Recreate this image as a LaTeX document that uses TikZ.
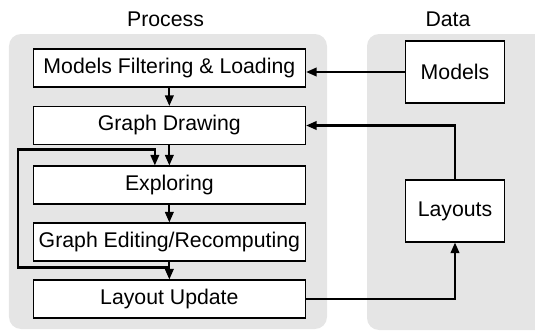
\documentclass[tikz,border=0pt]{standalone}
\usepackage{fontspec}
\setmainfont{Liberation Sans}
\usetikzlibrary{arrows.meta}

\begin{document}
\begin{tikzpicture}[
    >={Triangle[length=2.1mm,width=1.7mm]},
    panel/.style={fill=gray!20, rounded corners=0.24cm},
    title/.style={anchor=base, inner sep=0pt, font=\fontsize{12.1}{14.5}\selectfont},
    procbox/.style={draw, rectangle, minimum width=5.45cm, minimum height=0.76cm,
                    inner sep=0pt, text centered, fill=white, line width=0.6pt,
                    font=\fontsize{12.1}{14.5}\selectfont},
    databox/.style={draw, rectangle, minimum width=1.98cm, minimum height=1.24cm,
                    inner sep=0pt, text centered, fill=white, line width=0.6pt,
                    font=\fontsize{12.1}{14.5}\selectfont},
    flow/.style={->, line width=1.2pt}
]
    \clip (0,0) rectangle (10.7,6.66);

    % panels
    \fill[panel] (0.18,0.08) rectangle (6.54,5.98);
    \fill[panel] (7.34,0.06) rectangle (11.0,5.98);
    \node[title] (ptitle) at (3.31,6.13) {Process};
    \node[title] (dtitle) at (8.96,6.13) {Data};

    % process steps
    \node[procbox] (mfl) at (3.387,5.30) {Models Filtering \& Loading};
    \node[procbox] (gd)  at (3.387,4.15) {Graph Drawing};
    \node[procbox] (exp) at (3.387,2.96) {Exploring};
    \node[procbox] (ge)  at (3.387,1.82) {Graph Editing/Recomputing};
    \node[procbox] (lu)  at (3.387,0.68) {Layout Update};

    % data stores
    \node[databox] (mods) at (9.1,5.22) {Models};
    \node[databox] (lay)  at (9.1,2.44) {Layouts};

    \draw[flow] (mfl.south) -- (gd.north);
    \draw[flow] (gd.south)  -- (exp.north);
    \draw[flow] (exp.south) -- (ge.north);
    \draw[flow] (ge.south)  -- (lu.north);
    \draw[flow] ([yshift=-0.12cm]ge.south) -- ++(-3.03,0)
        |- ([xshift=-0.29cm,yshift=0.32cm]exp.north) -- ([xshift=-0.29cm]exp.north);

    \draw[flow] (mods.west) -- (mods.west -| mfl.east);
    \draw[flow] (lay.north) |- (gd.east);
    \draw[flow] (lu.east) -| (lay.south);
\end{tikzpicture}
\end{document}
